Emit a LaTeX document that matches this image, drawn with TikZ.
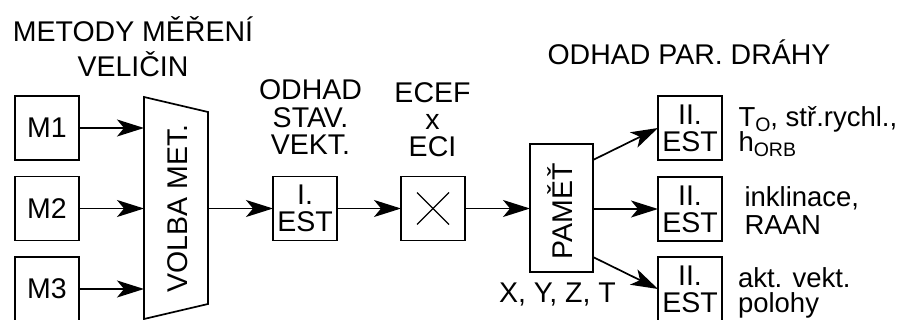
\documentclass[tikz,border=0pt]{standalone}
\usepackage{fontspec}
\setmainfont{Liberation Sans}
\usetikzlibrary{arrows.meta,calc}
\newcommand{\subtxt}[1]{\raisebox{-5pt}{\fontsize{19.5}{19.5}\selectfont #1}}
% multi-line text, baseline of the node = baseline of the first line
\newcommand{\mlc}[2]{\vtop{\baselineskip=#1\lineskiplimit=-100pt\lineskip=0pt\halign{\hfil##\hfil\cr#2\crcr}}}
\newcommand{\mll}[2]{\vtop{\baselineskip=#1\lineskiplimit=-100pt\lineskip=0pt\halign{##\hfil\cr#2\crcr}}}
\begin{document}
\begin{tikzpicture}[x=1pt,y=-1pt,
  every node/.style={inner sep=0pt, outer sep=0pt, font=\fontsize{28.5}{27}\selectfont},
  blk/.style={draw, line width=1.7pt, minimum width=64pt, minimum height=64pt, align=center},
  conn/.style={line width=1.7pt, -{Stealth[length=27pt,width=17pt,inset=7pt]}},
  lbl/.style={anchor=base},
  lblw/.style={anchor=base west, font=\fontsize{27.5}{27}\selectfont},
]
\useasboundingbox (0,0) rectangle (906,320);
\clip (0,0) rectangle (906,320);

% measurement boxes
\node[blk] (m1) at (47,128) {M1};
\node[blk] (m2) at (47,208.5) {M2};
\node[blk] (m3) at (47,289) {M3};

% selector trapezoid
\node[minimum width=64pt, minimum height=222pt] (volba) at (176,208) {};
\draw[line width=1.7pt, line join=miter] (volba.north west) -- ($(volba.north east)+(0,15)$)
  -- ($(volba.south east)+(0,-15)$) -- (volba.south west) -- cycle;
\node[rotate=90, anchor=base] (volbat) at (187,208.5) {VOLBA MET.};

\draw[conn] (m1.east) -- (m1.east -| volba.west);
\draw[conn] (m2.east) -- (m2.east -| volba.west);
\draw[conn] (m3.east) -- (m3.east -| volba.west);

% first estimator
\node[blk] (est1) at (305,208.5) {I.\\EST};
\draw[conn] (est1.west -| volba.east) -- (est1.west);

% ECEF x ECI transform
\node[blk] (cross) at (433,208.5) {};
\draw[line width=1.4pt] ($(cross.center)+(-16,-16)$) -- ($(cross.center)+(16,16)$);
\draw[line width=1.4pt] ($(cross.center)+(-16,16)$) -- ($(cross.center)+(16,-16)$);
\draw[conn] (est1.east) -- (cross.west);

% memory
\node[draw, line width=1.7pt, minimum width=63pt, minimum height=128pt] (pamet) at (561.5,208) {};
\node[rotate=90, anchor=base] (pamett) at (572,211) {PAMĚŤ};
\draw[conn] (cross.east) -- (cross.east -| pamet.west);

% second estimators
\node[blk] (est2a) at (690,128) {II.\\EST};
\node[blk] (est2b) at (690,209) {II.\\EST};
\node[blk] (est2c) at (690,289) {II.\\EST};
\draw[conn] ($(pamet.north east)+(0,16)$) -- (est2a.west);
\draw[conn] (pamet.east |- est2b.west) -- (est2b.west);
\draw[conn] ($(pamet.south east)+(0,-15)$) -- (est2c.west);

% headings
\node[lbl] (h1) at (133,42) {\mlc{35pt}{METODY MĚŘENÍ\cr VELIČIN}};
\node[lbl] (h2) at (310.5,100) {\mlc{27.5pt}{ODHAD\cr STAV.\cr VEKT.}};
\node[lbl] (h3) at (432.5,103) {\mlc{27pt}{ECEF\cr x\cr ECI}};
\node[lbl] (h4) at (689,65) {ODHAD PAR. DRÁHY};
\node[lbl] (xyz) at (557.5,303) {X, Y, Z, T};

% outputs
\node[lblw] (r1) at (738.5,127) {\mll{25pt}{T\subtxt{O}, stř.rychl.,\cr h\subtxt{ORB}}};
\node[lblw] (r2) at (744.5,207) {\mll{28pt}{inklinace,\cr RAAN}};
\node[lblw] (r3) at (738,288) {\mll{25pt}{akt. vekt.\cr polohy}};
\end{tikzpicture}
\end{document}
